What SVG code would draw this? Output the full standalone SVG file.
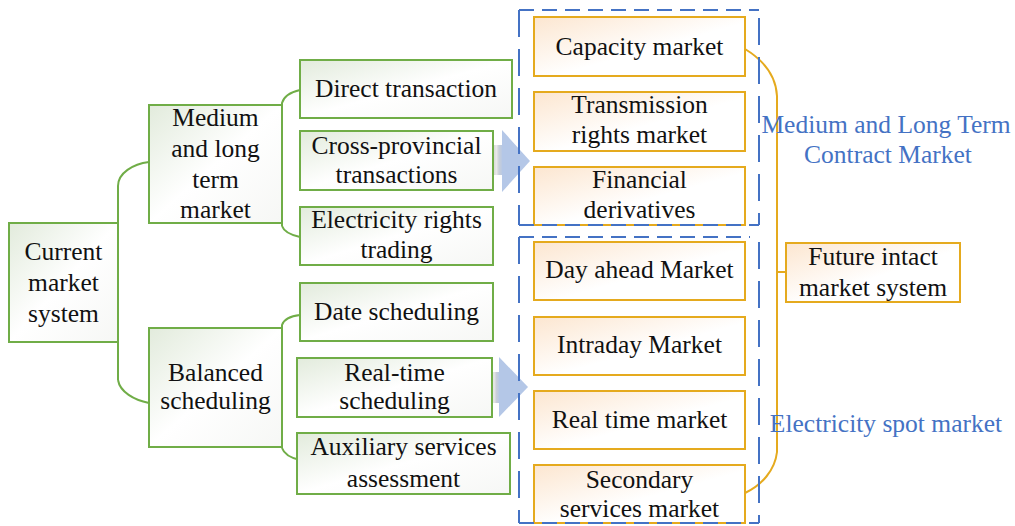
<svg xmlns="http://www.w3.org/2000/svg" width="1015" height="526" viewBox="0 0 1015 526">
  <style>
    text { font-family: "Liberation Serif", "Times New Roman", serif; font-size: 25.5px; fill: #111; text-anchor: middle; }
    .blue { fill: #4472c4; }
    .g { fill: url(#gFill); stroke: #70ad47; stroke-width: 2; }
    .o { fill: url(#oFill); stroke: #e5aa1e; stroke-width: 2; }
    .gl { fill: none; stroke: #70ad47; stroke-width: 2; }
    .ol { fill: none; stroke: #e5aa1e; stroke-width: 2; }
    .dh { stroke: #4472c4; stroke-width: 2; stroke-dasharray: 15 8; fill: none; }
    .dv { stroke: #4472c4; stroke-width: 2; stroke-dasharray: 27 12; fill: none; }
    .head { fill: #b4c7e7; }
    .shaft { fill: url(#shaftFill); }
  </style>
  <defs>
    <linearGradient id="gFill" x1="0" y1="0" x2="1" y2="1">
      <stop offset="0" stop-color="#e2ebdc"/>
      <stop offset="0.5" stop-color="#ffffff"/>
      <stop offset="1" stop-color="#f6f7f5"/>
    </linearGradient>
    <linearGradient id="oFill" x1="0" y1="0" x2="1" y2="1">
      <stop offset="0" stop-color="#fce6d0"/>
      <stop offset="0.55" stop-color="#ffffff"/>
      <stop offset="1" stop-color="#ffffff"/>
    </linearGradient>
    <linearGradient id="shaftFill" x1="0" y1="0" x2="1" y2="0">
      <stop offset="0" stop-color="#d6d6d6"/>
      <stop offset="0.35" stop-color="#e8e8e8"/>
      <stop offset="0.6" stop-color="#c9cfd8"/>
      <stop offset="1" stop-color="#b4c7e7"/>
    </linearGradient>
  </defs>

  <!-- connectors -->
  <g id="connectors">
    <path class="gl" d="M118,380 V186 C118,173 133,164 149,162"/>
    <path class="gl" d="M118,380 C120,392 134,400 149,403"/>
    <path class="gl" d="M282,226 V103 C284,96 291,92 300,90"/>
    <path class="gl" d="M282,226 C284,232 291,235 300,237"/>
    <path class="gl" d="M282,448 V325 C284,319 291,316 300,315"/>
    <path class="gl" d="M282,448 C284,454 291,458 300,460"/>
    <path class="ol" d="M745,49 C763,60 776,76 777,96 V452 C775,470 762,485 745,493"/>
    <path class="ol" d="M777,272 H786"/>
    <!-- block arrows -->
    <rect class="shaft" x="493" y="145" width="10" height="30"/>
    <polygon class="head" points="502,130 530,161 502,192"/>
    <rect class="shaft" x="491" y="372" width="9" height="31"/>
    <polygon class="head" points="499,357 528,387 499,417"/>
  </g>

  <g id="current">
    <rect class="g" x="9" y="223" width="109" height="119"/>
    <text x="63.5" y="260">Current</text>
    <text x="63.5" y="291">market</text>
    <text x="63.5" y="322">system</text>
  </g>
  <g id="medium-long">
    <rect class="g" x="149" y="105" width="133" height="118"/>
    <text x="215.5" y="126">Medium</text>
    <text x="215.5" y="157">and long</text>
    <text x="215.5" y="188">term</text>
    <text x="215.5" y="218">market</text>
  </g>
  <g id="balanced">
    <rect class="g" x="149" y="328" width="133" height="119"/>
    <text x="215.5" y="381">Balanced</text>
    <text x="215.5" y="409">scheduling</text>
  </g>
  <g id="direct">
    <rect class="g" x="300" y="60" width="212" height="58"/>
    <text x="406" y="97">Direct transaction</text>
  </g>
  <g id="cross">
    <rect class="g" x="300" y="131" width="193" height="59"/>
    <text x="396.5" y="154">Cross-provincial</text>
    <text x="396.5" y="183">transactions</text>
  </g>
  <g id="rights">
    <rect class="g" x="300" y="207" width="193" height="58"/>
    <text x="396.5" y="228">Electricity rights</text>
    <text x="396.5" y="258">trading</text>
  </g>
  <g id="date">
    <rect class="g" x="300" y="283" width="193" height="58"/>
    <text x="396.5" y="320">Date scheduling</text>
  </g>
  <g id="realtime-sched">
    <rect class="g" x="297" y="358" width="195" height="59"/>
    <text x="394.5" y="381">Real-time</text>
    <text x="394.5" y="409">scheduling</text>
  </g>
  <g id="auxiliary">
    <rect class="g" x="297" y="433" width="213" height="61"/>
    <text x="403.5" y="455">Auxiliary services</text>
    <text x="403.5" y="487">assessment</text>
  </g>

  <g id="capacity">
    <rect class="o" x="534" y="17" width="211" height="59"/>
    <text x="639.5" y="55">Capacity market</text>
  </g>
  <g id="transmission">
    <rect class="o" x="534" y="92" width="211" height="59"/>
    <text x="639.5" y="113">Transmission</text>
    <text x="639.5" y="143">rights market</text>
  </g>
  <g id="financial">
    <rect class="o" x="534" y="167" width="211" height="58"/>
    <text x="639.5" y="188">Financial</text>
    <text x="639.5" y="218">derivatives</text>
  </g>
  <g id="day-ahead">
    <rect class="o" x="534" y="242" width="211" height="58"/>
    <text x="639.5" y="278">Day ahead Market</text>
  </g>
  <g id="intraday">
    <rect class="o" x="534" y="317" width="211" height="58"/>
    <text x="639.5" y="353">Intraday Market</text>
  </g>
  <g id="real-time-market">
    <rect class="o" x="534" y="391" width="211" height="58"/>
    <text x="639.5" y="428">Real time market</text>
  </g>
  <g id="secondary">
    <rect class="o" x="534" y="465" width="211" height="58"/>
    <text x="639.5" y="488">Secondary</text>
    <text x="639.5" y="517">services market</text>
  </g>
  <g id="future">
    <rect class="o" x="786" y="243" width="174" height="59"/>
    <text x="873" y="265">Future intact</text>
    <text x="873" y="296">market system</text>
  </g>

  <!-- dashed group frames -->
  <g id="contract-frame">
    <path class="dh" d="M519,10 H759"/>
    <path class="dh" d="M519,225 H759"/>
    <path class="dv" d="M519,10 V225"/>
    <path class="dv" d="M759,18 V225"/>
    <text class="blue" x="886" y="133">Medium and Long Term</text>
    <text class="blue" x="888" y="163">Contract Market</text>
  </g>
  <g id="spot-frame">
    <path class="dh" d="M519,237 H750"/>
    <path class="dh" d="M519,523 H759"/>
    <path class="dv" d="M519,237 V523"/>
    <path class="dv" d="M759,242 V523"/>
    <text class="blue" x="886" y="432">Electricity spot market</text>
  </g>
</svg>
